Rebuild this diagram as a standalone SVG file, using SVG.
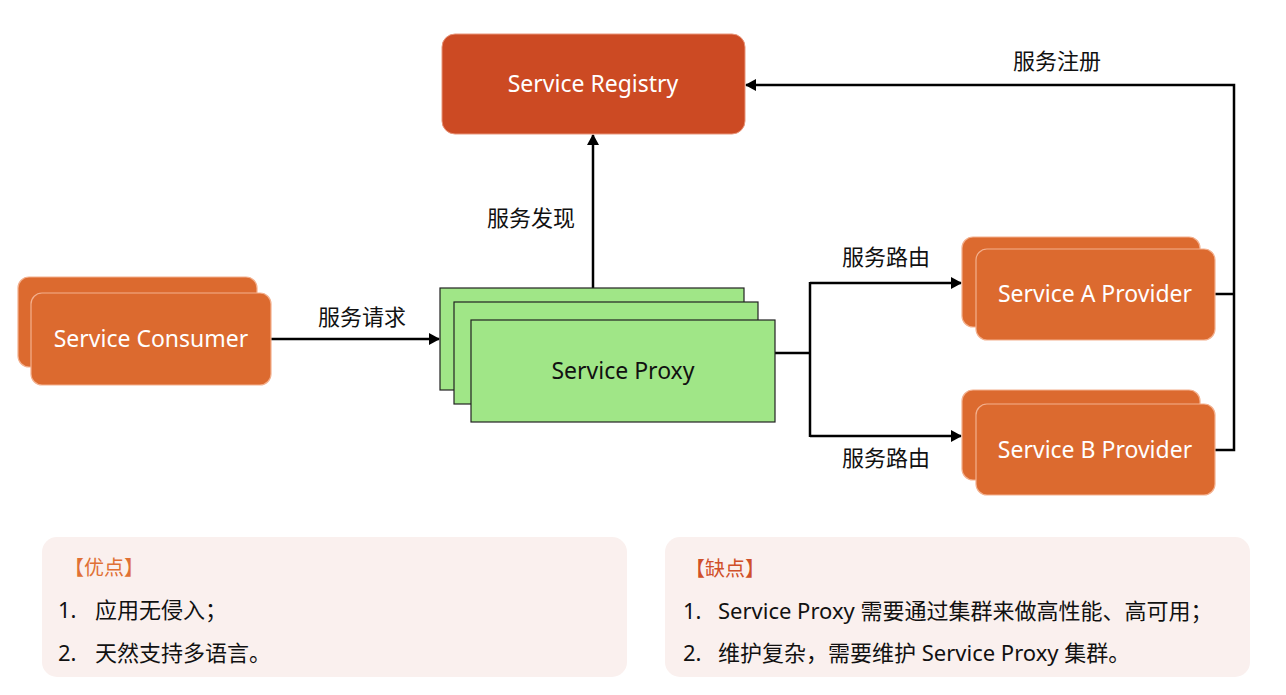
<svg xmlns="http://www.w3.org/2000/svg" width="1286" height="695" viewBox="0 0 1286 695">
<style>
text{font-family:"Noto Sans","Noto Sans CJK SC",sans-serif;}
.orange{fill:#DC6A2F;stroke:#F3B08E;stroke-width:1.2;}
.reg{fill:#CC4A23;stroke:#E8957A;stroke-width:1;}
.proxy{fill:#A0E687;stroke:#222;stroke-width:1.2;}
.wt{fill:#fff;font-size:23px;text-anchor:middle;}
.bt{fill:#111;font-size:23px;text-anchor:middle;}
.lbl{fill:#111;font-size:22px;text-anchor:middle;}
.conn{fill:none;stroke:#000;stroke-width:2.5;}
.panel{fill:#FAF0EE;}
.li{fill:#111;font-size:22px;}
.hd{font-size:20px;}
</style>
<defs>
<marker id="arr" markerWidth="12" markerHeight="12" refX="10" refY="6" orient="auto" markerUnits="userSpaceOnUse">
<path d="M0,0 L11,6 L0,12 Z" fill="#000"/>
</marker>
</defs>
<rect width="1286" height="695" fill="#fff"/>
<g id="connectors">
<line class="conn" x1="271" y1="339" x2="439" y2="339" marker-end="url(#arr)"/>
<line class="conn" x1="593" y1="288" x2="593" y2="135" marker-end="url(#arr)"/>
<polyline class="conn" points="775,353 810,353"/>
<line class="conn" x1="810" y1="282" x2="810" y2="437"/>
<line class="conn" x1="810" y1="283" x2="961" y2="283" marker-end="url(#arr)"/>
<line class="conn" x1="810" y1="436" x2="961" y2="436" marker-end="url(#arr)"/>
<polyline class="conn" points="1215,294 1234,294"/>
<polyline class="conn" points="1215,450 1234,450 1234,85 746,85" marker-end="url(#arr)"/>
<text class="lbl" x="362" y="325">服务请求</text>
<text class="lbl" x="531" y="226">服务发现</text>
<text class="lbl" x="886" y="265">服务路由</text>
<text class="lbl" x="886" y="466">服务路由</text>
<text class="lbl" x="1057" y="69">服务注册</text>
</g>
<g id="registry">
<rect class="reg" x="442" y="34" width="303" height="100" rx="13"/>
<text class="wt" x="593" y="92">Service Registry</text>
</g>
<g id="consumer">
<rect class="orange" x="18" y="277" width="239" height="90" rx="11"/>
<rect class="orange" x="31" y="293" width="240" height="92" rx="11"/>
<text class="wt" x="151" y="347">Service Consumer</text>
</g>
<g id="proxy">
<rect class="proxy" x="440" y="288" width="304" height="102"/>
<rect class="proxy" x="454" y="302" width="304" height="102"/>
<rect class="proxy" x="471" y="320" width="304" height="102"/>
<text class="bt" x="623" y="379">Service Proxy</text>
</g>
<g id="providerA">
<rect class="orange" x="962" y="237" width="238" height="90" rx="11"/>
<rect class="orange" x="976" y="249" width="239" height="91" rx="11"/>
<text class="wt" x="1095" y="302">Service A Provider</text>
</g>
<g id="providerB">
<rect class="orange" x="962" y="390" width="238" height="90" rx="11"/>
<rect class="orange" x="976" y="404" width="239" height="91" rx="11"/>
<text class="wt" x="1095" y="458">Service B Provider</text>
</g>
<g id="pros">
<rect class="panel" x="42" y="537" width="585" height="140" rx="15"/>
<text class="hd" x="64" y="575" fill="#E07035">【优点】</text>
<text class="li" x="58" y="618">1.</text>
<text class="li" x="95" y="618">应用无侵入；</text>
<text class="li" x="58" y="661">2.</text>
<text class="li" x="95" y="661">天然支持多语言。</text>
</g>
<g id="cons">
<rect class="panel" x="665" y="537" width="585" height="140" rx="15"/>
<text class="hd" x="685" y="576" fill="#D0502A">【缺点】</text>
<text class="li" x="683" y="619">1.</text>
<text class="li" x="718" y="619">Service Proxy 需要通过集群来做高性能、高可用；</text>
<text class="li" x="683" y="661">2.</text>
<text class="li" x="718" y="661">维护复杂，需要维护 Service Proxy 集群。</text>
</g>
</svg>
